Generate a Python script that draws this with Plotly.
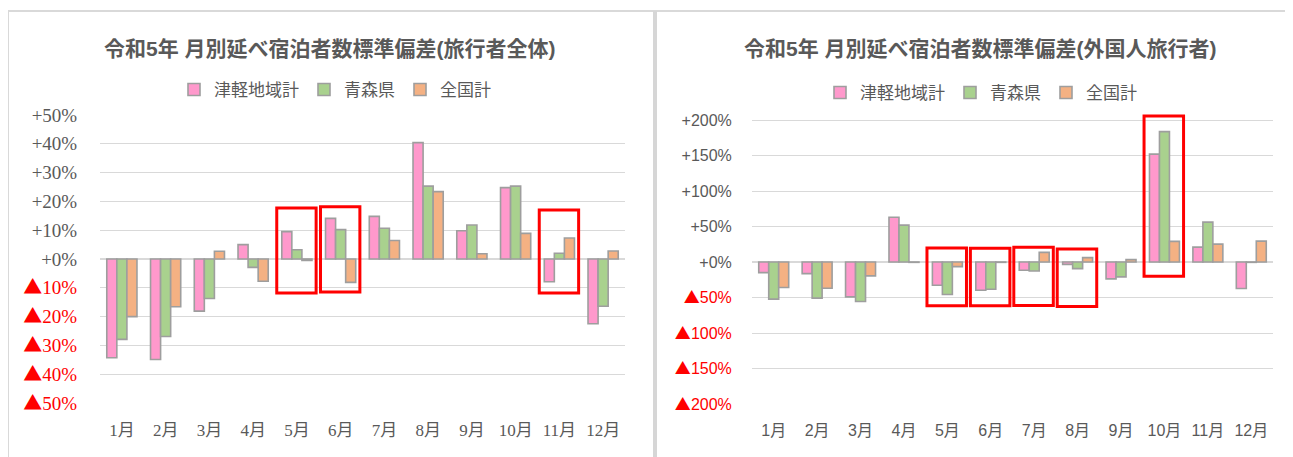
import plotly.graph_objects as go

# ---------------- data ----------------
months = ["1月", "2月", "3月", "4月", "5月", "6月", "7月", "8月", "9月", "10月", "11月", "12月"]
series_names = ["津軽地域計", "青森県", "全国計"]
series_colors = ["#FF99CC", "#A9D18E", "#F4B183"]

# 旅行者全体 (%)
all_tsugaru = [-34.3, -34.9, -18.1, 5.0, 9.5, 14.1, 14.8, 40.4, 9.8, 24.8, -7.9, -22.5]
all_aomori = [-27.9, -26.9, -13.7, -2.9, 3.2, 10.2, 10.7, 25.3, 11.8, 25.3, 2.0, -16.4]
all_zenkoku = [-20.0, -16.6, 2.7, -7.7, -0.5, -8.1, 6.4, 23.4, 1.8, 8.9, 7.3, 2.8]

# 外国人旅行者 (%)
for_tsugaru = [-15.0, -16.4, -49.1, 63.1, -32.7, -39.7, -11.7, -3.3, -23.8, 151.9, 21.0, -37.4]
for_aomori = [-52.3, -50.9, -55.6, 51.9, -45.8, -38.3, -12.6, -9.3, -21.0, 183.6, 56.1, -0.5]
for_zenkoku = [-36.0, -36.9, -19.6, -0.5, -6.5, -0.5, 13.6, 6.1, 3.3, 29.0, 25.2, 29.4]

left_tickvals = [50, 40, 30, 20, 10, 0, -10, -20, -30, -40, -50]
left_ticklabels = ["+50%", "+40%", "+30%", "+20%", "+10%", "+0%",
                   "▲10%", "▲20%", "▲30%", "▲40%", "▲50%"]
right_tickvals = [200, 150, 100, 50, 0, -50, -100, -150, -200]
right_ticklabels = ["+200%", "+150%", "+100%", "+50%", "+0%",
                    "▲50%", "▲100%", "▲150%", "▲200%"]

left_title = "令和5年 月別延べ宿泊者数標準偏差(旅行者全体)"
right_title = "令和5年 月別延べ宿泊者数標準偏差(外国人旅行者)"

# highlighted months (index, y-bottom, y-top) for red frames
left_boxes = [(4, -11.8, 17.7), (5, -11.5, 18.1), (10, -11.8, 17.0)]
right_boxes = [(4, -61.7, 19.6), (5, -61.7, 19.2), (6, -61.1, 20.6), (7, -62.5, 18.2), (9, -20.1, 205.7)]

# ---------------- figure ----------------
W, H = 1293, 457
OFF = 8  # page body margin of the browser
GREY = "#595959"
SANS = "Liberation Sans, Noto Sans CJK JP, sans-serif"
SERIF = "Liberation Serif, Noto Sans CJK JP, serif"


def colored(labels):
    out = []
    for t in labels:
        if t.startswith("▲"):
            out.append('<span style="color:#FF0000"><span style="font-family:\'Noto Sans CJK JP\'">▲</span>'
                       + t[1:] + '</span>')
        else:
            out.append(t)
    return out


fig = go.Figure()
for name, col, vals in zip(series_names, series_colors, [all_tsugaru, all_aomori, all_zenkoku]):
    fig.add_trace(go.Bar(x=months, y=vals, name=name, marker=dict(color=col, line=dict(color="#9E9E9E", width=1.6)),
                         xaxis="x", yaxis="y", legend="legend"))
for name, col, vals in zip(series_names, series_colors, [for_tsugaru, for_aomori, for_zenkoku]):
    fig.add_trace(go.Bar(x=months, y=vals, name=name, marker=dict(color=col, line=dict(color="#9E9E9E", width=1.6)),
                         xaxis="x2", yaxis="y2", legend="legend2"))


def px_x(p):
    return (p - OFF) / W


def px_y(p):
    return 1 - (p - OFF) / H


ygrid = dict(showgrid=True, gridcolor="#D9D9D9", gridwidth=1, zeroline=True, zerolinecolor="#D9D9D9",
             zerolinewidth=1.5, showline=False, ticks="outside", tickcolor="rgba(0,0,0,0)", automargin=False)

fig.update_layout(
    width=W, height=H,
    autosize=False,
    margin=dict(l=0, r=0, t=0, b=0, pad=0, autoexpand=False),
    paper_bgcolor="white", plot_bgcolor="white",
    barmode="group", bargap=0.31, bargroupgap=0,
    font=dict(family=SANS, color=GREY),
    xaxis=dict(domain=[px_x(100), px_x(625)], anchor="y", showgrid=False, zeroline=False, automargin=False,
               ticks="outside", ticklen=12, tickcolor="rgba(0,0,0,0)",
               tickfont=dict(family=SERIF, size=17, color=GREY)),
    yaxis=dict(domain=[px_y(403), px_y(115)], anchor="x", range=[-50, 50],
               tickvals=left_tickvals, ticktext=colored(left_ticklabels), ticklen=18,
               tickfont=dict(family=SERIF, size=19, color=GREY), **ygrid),
    xaxis2=dict(domain=[px_x(752), px_x(1273)], anchor="y2", showgrid=False, zeroline=False, automargin=False,
                ticks="outside", ticklen=12, tickcolor="rgba(0,0,0,0)",
                tickfont=dict(family=SANS, size=16, color=GREY)),
    yaxis2=dict(domain=[px_y(404), px_y(404 - 412 * 0.71)], anchor="x2", range=[-200, 212],
                tickvals=right_tickvals, ticktext=colored(right_ticklabels), ticklen=16,
                tickfont=dict(family=SANS, size=16, color=GREY), **ygrid),
    legend=dict(orientation="h", x=px_x(335), y=px_y(90), xanchor="center", yanchor="middle",
                font=dict(family=SANS, size=17, color=GREY), bgcolor="rgba(0,0,0,0)",
                itemclick=False, itemdoubleclick=False),
    legend2=dict(orientation="h", x=px_x(981), y=px_y(93), xanchor="center", yanchor="middle",
                 font=dict(family=SANS, size=17, color=GREY), bgcolor="rgba(0,0,0,0)",
                 itemclick=False, itemdoubleclick=False),
    showlegend=True,
)

fig.add_annotation(text="<b>" + left_title + "</b>", xref="paper", yref="paper", x=px_x(330), y=px_y(48),
                   xanchor="center", yanchor="middle",
                   showarrow=False, font=dict(family=SANS, size=21, color=GREY))
fig.add_annotation(text="<b>" + right_title + "</b>", xref="paper", yref="paper", x=px_x(980), y=px_y(48),
                   xanchor="center", yanchor="middle",
                   showarrow=False, font=dict(family=SANS, size=21, color=GREY))

# panel borders
border = "#D9D9D9"
fig.add_shape(type="line", xref="paper", yref="paper", x0=px_x(7), x1=1, y0=px_y(11), y1=px_y(11),
              line=dict(color=border, width=2))
fig.add_shape(type="line", xref="paper", yref="paper", x0=px_x(8), x1=px_x(8), y0=0, y1=px_y(11),
              line=dict(color=border, width=2))
fig.add_shape(type="line", xref="paper", yref="paper", x0=px_x(655), x1=px_x(655), y0=0, y1=px_y(11),
              line=dict(color="#D6D6D6", width=4))

# red highlight frames
for i, lo, hi in left_boxes:
    fig.add_shape(type="rect", xref="x", yref="y", x0=i - 0.46, x1=i + 0.44, y0=lo, y1=hi,
                  line=dict(color="#FF0000", width=3), fillcolor="rgba(0,0,0,0)")
for i, lo, hi in right_boxes:
    fig.add_shape(type="rect", xref="x2", yref="y2", x0=i - 0.47, x1=i + 0.44, y0=lo, y1=hi,
                  line=dict(color="#FF0000", width=3), fillcolor="rgba(0,0,0,0)")

fig.write_html("out.html")
